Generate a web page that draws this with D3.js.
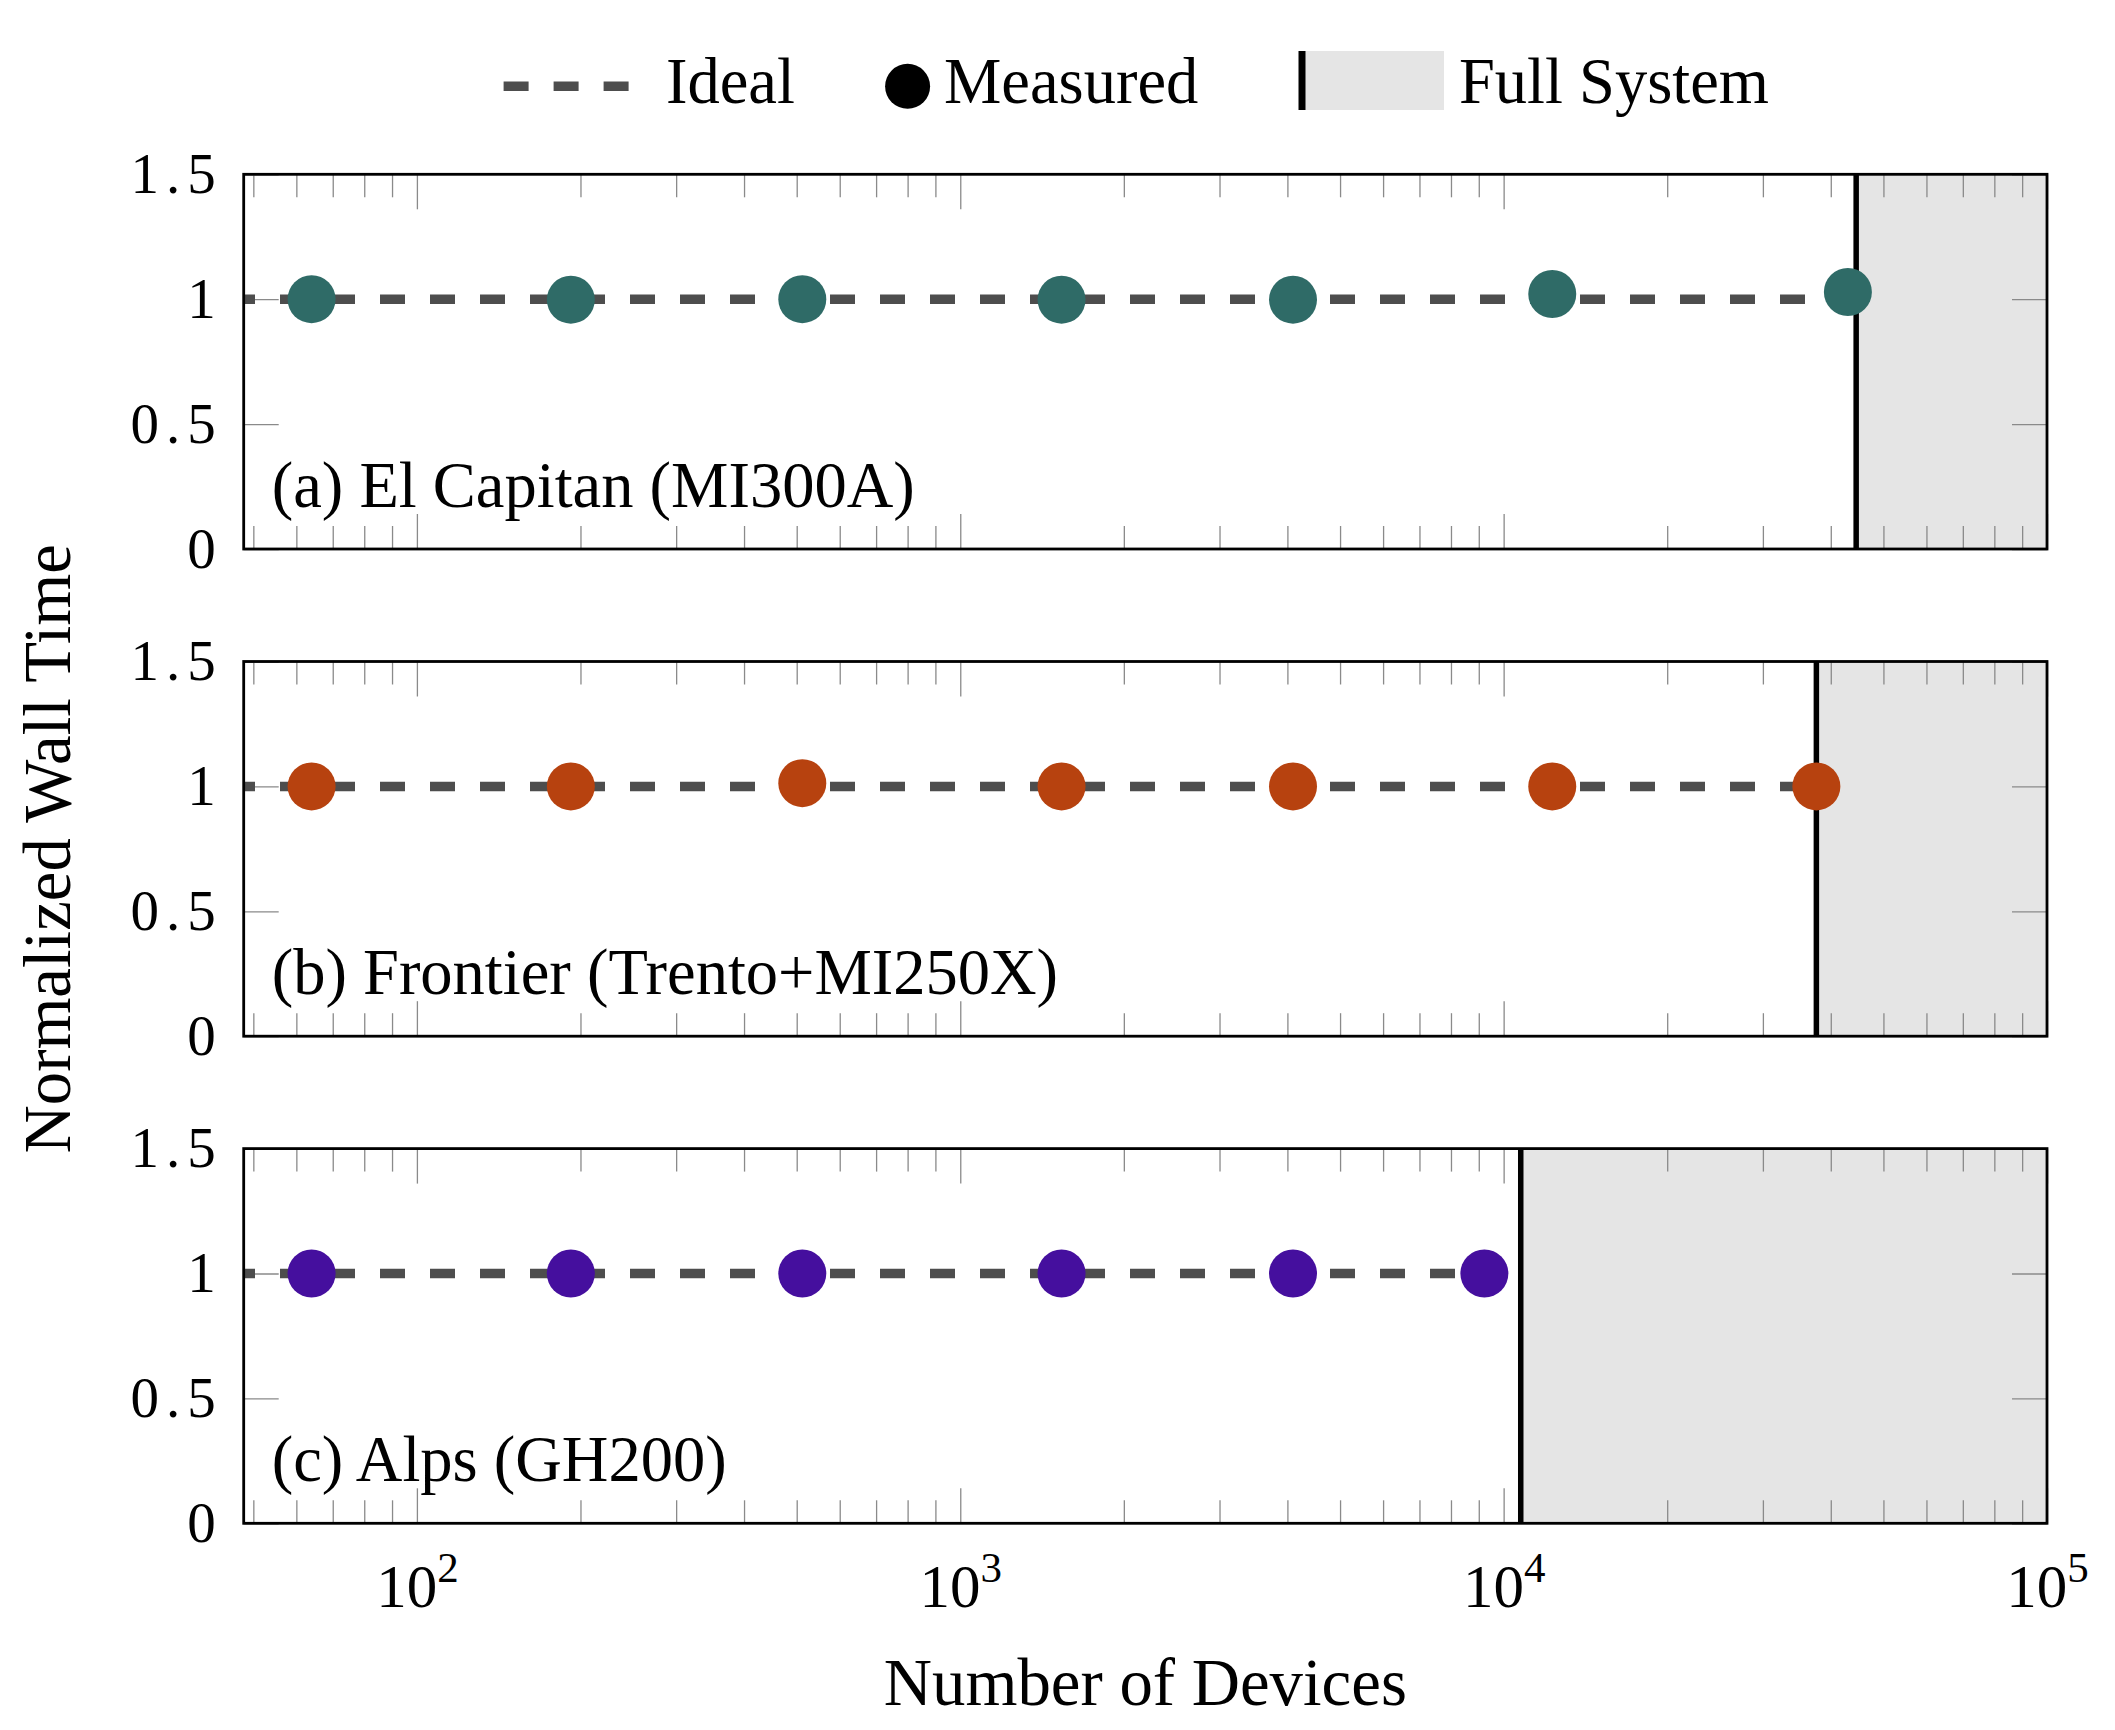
<!DOCTYPE html>
<html><head><meta charset="utf-8">
<script src="https://cdn.jsdelivr.net/npm/d3@7"></script>
<style>body{margin:0;background:#fff} text{font-family:"Liberation Serif","Times New Roman",serif;fill:#000}</style>
</head><body><svg id="chart" width="2115" height="1730"></svg>
<script>
// ---- data ----
const panelLabels = ["(a) El Capitan (MI300A)", "(b) Frontier (Trento+MI250X)", "(c) Alps (GH200)"];
const elCapitanDevices = [64, 192, 512, 1536, 4096, 12288, 43008];
const elCapitanTime    = [1.0, 0.998, 1.0, 0.998, 0.998, 1.021, 1.029];
const frontierDevices  = [64, 192, 512, 1536, 4096, 12288, 37632];
const frontierTime     = [1.0, 1.0, 1.013, 1.0, 1.0, 1.0, 1.0];
const alpsDevices      = [64, 192, 512, 1536, 4096, 9216];
const alpsTime         = [1.0, 1.0, 1.0, 1.0, 1.0, 1.0];
const fullSystemDevices = [44544, 37632, 10752];
const idealTime = 1;
const markerColors = ["#2f6b67", "#b7420f", "#450f9e"];
const yTicks = [0, 0.5, 1, 1.5];
const xMajorTicks = [1e2, 1e3, 1e4, 1e5];
const xTickExponents = ["2", "3", "4", "5"];
const legendLabels = ["Ideal", "Measured", "Full System"];
const xDomain = [48, 1e5];
const yDomain = [0, 1.5];

const panels = [
  {devices: elCapitanDevices, time: elCapitanTime},
  {devices: frontierDevices, time: frontierTime},
  {devices: alpsDevices, time: alpsTime}
];

// ---- layout ----
const svg = d3.select("#chart");
svg.append("rect").attr("width", 2115).attr("height", 1730).attr("fill", "#fff");
const L = 243.7, R = 2047, H = 374.7;
const panelTops = [174.3, 661.5, 1148.6];
const x = d3.scaleLog().domain(xDomain).range([L, R]);
const minorTicks = x.ticks().filter(v => !xMajorTicks.includes(v));
const tickColor = "#8a8a8a";

panels.forEach((p, i) => {
  const g = svg.append("g").attr("transform", `translate(0,${panelTops[i]})`);
  const y = d3.scaleLinear().domain(yDomain).range([H, 0]);

  // full-system shading
  g.append("rect")
    .attr("x", x(fullSystemDevices[i])).attr("y", 0)
    .attr("width", R - x(fullSystemDevices[i])).attr("height", H)
    .attr("fill", "#e5e5e5");

  const styleAxis = sel => {
    sel.select(".domain").remove();
    sel.selectAll(".tick line").attr("stroke", tickColor).attr("stroke-width", 1.3);
  };
  // x ticks (bottom & top, inward)
  g.append("g").attr("transform", `translate(0,${H})`)
    .call(d3.axisBottom(x).tickValues(minorTicks).tickSize(-23).tickFormat("")).call(styleAxis);
  g.append("g")
    .call(d3.axisTop(x).tickValues(minorTicks).tickSize(-23).tickFormat("")).call(styleAxis);
  g.append("g")
    .call(d3.axisTop(x).tickValues(xMajorTicks).tickSize(-35).tickFormat("")).call(styleAxis);
  const xb = g.append("g").attr("transform", `translate(0,${H})`)
    .call(d3.axisBottom(x).tickValues(xMajorTicks).tickSize(-35).tickFormat("")).call(styleAxis);
  if (i === panels.length - 1) {
    xb.selectAll(".tick text").each(function(d, j) {
      const t = d3.select(this).attr("y", 83.4).attr("dy", 0)
        .attr("font-size", 61).attr("fill", "#000").attr("text-anchor", "middle");
      t.append("tspan").text("10");
      t.append("tspan").attr("dy", -25).attr("font-size", 43).text(xTickExponents[j]);
    });
  }
  // y ticks
  g.append("g").attr("transform", `translate(${L},0)`)
    .call(d3.axisLeft(y).tickValues(yTicks).tickSize(-35).tickPadding(21).tickFormat(d3.format("")))
    .call(styleAxis)
    .call(a => a.selectAll(".tick text").attr("font-size", 57).attr("letter-spacing", 7)
      .attr("fill", "#000").attr("font-family", '"Liberation Serif", serif'));
  g.append("g").attr("transform", `translate(${R},0)`)
    .call(d3.axisRight(y).tickValues(yTicks).tickSize(-35).tickFormat("")).call(styleAxis);

  // full-system line
  g.append("line")
    .attr("x1", x(fullSystemDevices[i])).attr("x2", x(fullSystemDevices[i]))
    .attr("y1", 0).attr("y2", H).attr("stroke", "#000").attr("stroke-width", 5.5);

  // ideal line
  const last = p.devices[p.devices.length - 1];
  g.append("path")
    .datum([xDomain[0], last])
    .attr("d", d3.line().x(d => x(d)).y(() => y(idealTime)))
    .attr("fill", "none").attr("stroke", "#4d4d4d").attr("stroke-width", 9.5)
    .attr("stroke-dasharray", "25 25").attr("stroke-dashoffset", 13.7);

  // measured points
  g.selectAll("circle.pt").data(p.devices.map((d, k) => [d, p.time[k]]))
    .join("circle").attr("class", "pt")
    .attr("cx", d => x(d[0])).attr("cy", d => y(d[1])).attr("r", 24)
    .attr("fill", markerColors[i]);

  // frame
  g.append("rect").attr("x", L).attr("y", 0).attr("width", R - L).attr("height", H)
    .attr("fill", "none").attr("stroke", "#000").attr("stroke-width", 2.8);

  // panel label
  g.append("text").attr("x", L + 28).attr("y", H - 42.3)
    .attr("font-size", 64.5).text(panelLabels[i]);
});

// axis titles
svg.append("text").attr("x", (L + R) / 2).attr("y", 1705)
  .attr("text-anchor", "middle").attr("font-size", 66.8).text("Number of Devices");
svg.append("text")
  .attr("transform", `translate(70,${(panelTops[0] + panelTops[2] + H) / 2}) rotate(-90)`)
  .attr("text-anchor", "middle").attr("font-size", 66.8).text("Normalized Wall Time");

// legend
const lg = svg.append("g");
const ly = 86.3, lb = 103.3;
lg.append("line").attr("x1", 503.6).attr("x2", 629).attr("y1", ly).attr("y2", ly)
  .attr("stroke", "#4d4d4d").attr("stroke-width", 9.5).attr("stroke-dasharray", "25 25");
lg.append("text").attr("x", 666).attr("y", lb).attr("font-size", 64.5).text(legendLabels[0]);
lg.append("circle").attr("cx", 907.6).attr("cy", ly).attr("r", 22.5).attr("fill", "#000");
lg.append("text").attr("x", 944).attr("y", lb).attr("font-size", 64.5).text(legendLabels[1]);
lg.append("rect").attr("x", 1302).attr("y", 51).attr("width", 142).attr("height", 59).attr("fill", "#e5e5e5");
lg.append("line").attr("x1", 1302).attr("x2", 1302).attr("y1", 51).attr("y2", 110)
  .attr("stroke", "#000").attr("stroke-width", 7);
lg.append("text").attr("x", 1459).attr("y", lb).attr("font-size", 64.5).text(legendLabels[2]);
</script></body></html>
